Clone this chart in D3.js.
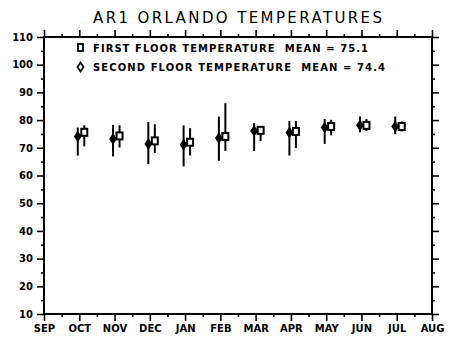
<!DOCTYPE html>
<html>
<head>
<meta charset="utf-8">
<script src="https://cdn.jsdelivr.net/npm/d3@7"></script>
<style>
  body { margin: 0; background: #fff; }
  text { font-family: "DejaVu Sans", sans-serif; fill: #000; white-space: pre; }
</style>
</head>
<body>
<svg id="chart" width="464" height="351"></svg>
<script>
"use strict";

var monthLabels = ["SEP", "OCT", "NOV", "DEC", "JAN", "FEB", "MAR", "APR", "MAY", "JUN", "JUL", "AUG"]
var obsMonths = ["OCT", "NOV", "DEC", "JAN", "FEB", "MAR", "APR", "MAY", "JUN", "JUL"]

// first floor (squares)
var firstMean = [75.6, 74.3, 72.5, 72.0, 74.1, 76.3, 75.9, 77.7, 78.1, 77.7]
var firstMax  = [78.1, 78.1, 78.5, 77.1, 86.1, 77.7, 79.7, 80.1, 80.4, 79.5]
var firstMin  = [70.5, 70.1, 68.1, 67.2, 68.9, 72.5, 69.9, 74.5, 76.1, 75.9]

// second floor (diamonds)
var secondMean = [74.1, 73.2, 71.4, 71.1, 73.5, 76.1, 75.5, 77.3, 78.1, 77.7]
var secondMax  = [77.3, 78.3, 79.3, 78.1, 81.3, 78.9, 79.7, 80.4, 81.3, 81.3]
var secondMin  = [67.2, 66.9, 64.1, 63.3, 65.3, 68.9, 67.2, 71.4, 75.6, 74.9]

var yTicks = d3.range(10, 111, 10)
var legendLines = ["FIRST FLOOR TEMPERATURE  MEAN = 75.1", "SECOND FLOOR TEMPERATURE  MEAN = 74.4"]
var titleText = "AR1 ORLANDO TEMPERATURES"

var margin = {left: 44, right: 32, top: 37, bottom: 37}
var svg = d3.select("#chart")
var width = 464 - margin.left - margin.right
var height = 351 - margin.top - margin.bottom

var x = d3.scaleLinear().domain([0, monthLabels.length - 1]).range([0, width])
var y = d3.scaleLinear().domain([10, 110]).range([height, 0])

var g = svg.append("g").attr("transform", "translate(" + margin.left + "," + margin.top + ")")

function series(means, maxs, mins) {
    return obsMonths.map((m, i) => ({
        idx: monthLabels.indexOf(m),
        mean: means[i], max: maxs[i], min: mins[i]
    }))
}
var firstData = series(firstMean, firstMax, firstMin)
var secondData = series(secondMean, secondMax, secondMin)

// frame
g.append("rect")
    .attr("width", width).attr("height", height)
    .attr("fill", "none").attr("stroke", "#000").attr("stroke-width", 2)

var halfTicks = d3.range(0.5, monthLabels.length - 1, 1)
var minorY = d3.range(15, 110, 10)

// bottom axis
var xAxisB = d3.axisBottom(x).tickValues(d3.range(0, monthLabels.length)).tickSize(7)
    .tickFormat(d => monthLabels[d]).tickPadding(4)
g.append("g").attr("class", "xb").attr("transform", "translate(0," + height + ")").call(xAxisB)
g.append("g").attr("transform", "translate(0," + height + ")")
    .call(d3.axisBottom(x).tickValues(halfTicks).tickSize(3).tickFormat(""))
// top axis
g.append("g").call(d3.axisTop(x).tickValues(d3.range(0, monthLabels.length)).tickSize(7).tickFormat(""))
g.append("g").call(d3.axisTop(x).tickValues(halfTicks).tickSize(3).tickFormat(""))
// left axis
g.append("g").attr("class", "yl")
    .call(d3.axisLeft(y).tickValues(yTicks).tickSize(7).tickPadding(4).tickFormat(d3.format("d")))
g.append("g").call(d3.axisLeft(y).tickValues(minorY).tickSize(3).tickFormat(""))
// right axis
g.append("g").attr("transform", "translate(" + width + ",0)")
    .call(d3.axisRight(y).tickValues(yTicks).tickSize(7).tickFormat(""))
g.append("g").attr("transform", "translate(" + width + ",0)")
    .call(d3.axisRight(y).tickValues(minorY).tickSize(3).tickFormat(""))

g.selectAll(".domain").remove()
g.selectAll(".tick line").attr("stroke", "#000").attr("stroke-width", 1.6)
g.selectAll(".xb text").attr("font-size", 10).attr("font-weight", "bold")
g.selectAll(".yl text").attr("font-size", 10).attr("font-weight", "bold")

// marks
var diamondOff = -1.5, squareOff = 5

function diamondPath(cx, cy) {
    return "M" + cx + "," + (cy - 4.5) + "L" + (cx + 3) + "," + cy + "L" + cx + "," + (cy + 4.5) +
        "L" + (cx - 3) + "," + cy + "Z"
}

g.selectAll(".rangeSecond").data(secondData).enter().append("line")
    .attr("x1", d => x(d.idx) + diamondOff).attr("x2", d => x(d.idx) + diamondOff)
    .attr("y1", d => y(d.max)).attr("y2", d => y(d.min))
    .attr("stroke", "#000").attr("stroke-width", 2)
g.selectAll(".diamond").data(secondData).enter().append("path")
    .attr("d", d => diamondPath(x(d.idx) + diamondOff, y(d.mean)))
    .attr("fill", "#000").attr("stroke", "#000").attr("stroke-width", 1.5)

g.selectAll(".rangeFirst").data(firstData).enter().append("line")
    .attr("x1", d => x(d.idx) + squareOff).attr("x2", d => x(d.idx) + squareOff)
    .attr("y1", d => y(d.max)).attr("y2", d => y(d.min))
    .attr("stroke", "#000").attr("stroke-width", 2)
g.selectAll(".square").data(firstData).enter().append("rect")
    .attr("x", d => x(d.idx) + squareOff - 3).attr("y", d => y(d.mean) - 3.5)
    .attr("width", 6).attr("height", 7)
    .attr("fill", "#fff").attr("stroke", "#000").attr("stroke-width", 2)

// title
svg.append("text")
    .attr("x", 93).attr("y", 23)
    .attr("font-size", 15)
    .attr("textLength", 289).attr("lengthAdjust", "spacing")
    .text(titleText)

// legend
var legendY = [48, 67]
svg.append("rect").attr("x", 78).attr("y", legendY[0] - 4).attr("width", 5).attr("height", 7)
    .attr("fill", "#fff").attr("stroke", "#000").attr("stroke-width", 1.8)
svg.append("path").attr("d", diamondPath(80.5, legendY[1]))
    .attr("fill", "#fff").attr("stroke", "#000").attr("stroke-width", 1.8)
svg.selectAll(".leg").data(legendLines).enter().append("text")
    .attr("x", 93).attr("y", (d, i) => legendY[i] + 4)
    .attr("font-size", 10).attr("font-weight", "bold")
    .attr("textLength", (d, i) => i === 0 ? 275 : 292).attr("lengthAdjust", "spacing")
    .text(d => d)
</script>
</body>
</html>
